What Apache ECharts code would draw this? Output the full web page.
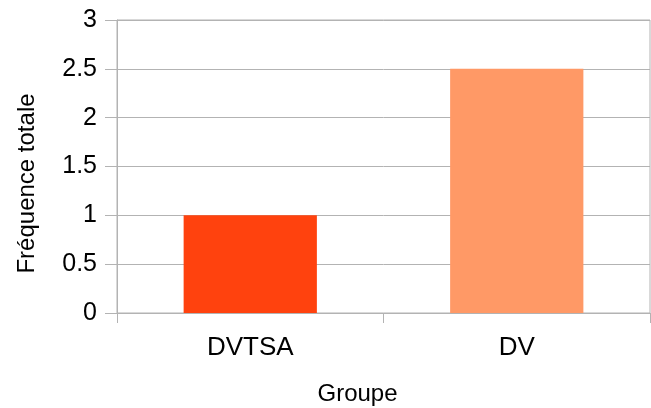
<!DOCTYPE html>
<html>
<head>
<meta charset="utf-8">
<script src="https://cdn.jsdelivr.net/npm/echarts@6/dist/echarts.min.js"></script>
<style>
html, body { margin: 0; padding: 0; background: #fff; }
#chart { width: 651px; height: 408px; }
</style>
</head>
<body>
<div id="chart"></div>
<script>
// données du graphique
var groupes = ['DVTSA', 'DV'];
var frequences = [1, 2.5];
var couleurs = ['#ff420e', '#ff9966'];
var yTicks = [0, 0.5, 1, 1.5, 2, 2.5, 3];

var myChart = echarts.init(document.getElementById('chart'));
var gris = '#b3b3b3';

var option = {
    backgroundColor: '#fff',
    animation: false,
    textStyle: { fontFamily: 'Liberation Sans, Arial, sans-serif' },
    grid: {
        left: 117, right: 1, top: 20, bottom: 95,
        outerBoundsMode: 'none',
        containLabel: false,
        show: true, borderColor: gris, borderWidth: 1
    },
    xAxis: {
        type: 'category',
        data: groupes,
        name: 'Groupe',
        nameLocation: 'middle',
        nameGap: 69,
        nameTextStyle: { fontSize: 24, color: '#000', padding: [0, 52, 0, 0] },
        axisLine: { lineStyle: { color: gris } },
        axisTick: { show: true, length: 10, lineStyle: { color: gris } },
        axisLabel: { fontSize: 26, color: '#000', margin: 22 }
    },
    yAxis: {
        type: 'value',
        min: yTicks[0],
        max: yTicks[yTicks.length - 1],
        interval: 0.5,
        name: 'Fréquence totale',
        nameLocation: 'middle',
        nameGap: 78,
        nameTextStyle: { fontSize: 24, color: '#000', padding: [0, 34, 0, 0] },
        axisLine: { show: true, lineStyle: { color: gris } },
        axisTick: { show: true, length: 12, lineStyle: { color: gris } },
        splitLine: { lineStyle: { color: gris } },
        axisLabel: { fontSize: 25, color: '#000', margin: 20 }
    },
    series: [{
        type: 'bar',
        barWidth: '50%',
        data: frequences.map(function (v, i) {
            return { value: v, itemStyle: { color: couleurs[i] } };
        })
    }]
};
myChart.setOption(option);
</script>
</body>
</html>
